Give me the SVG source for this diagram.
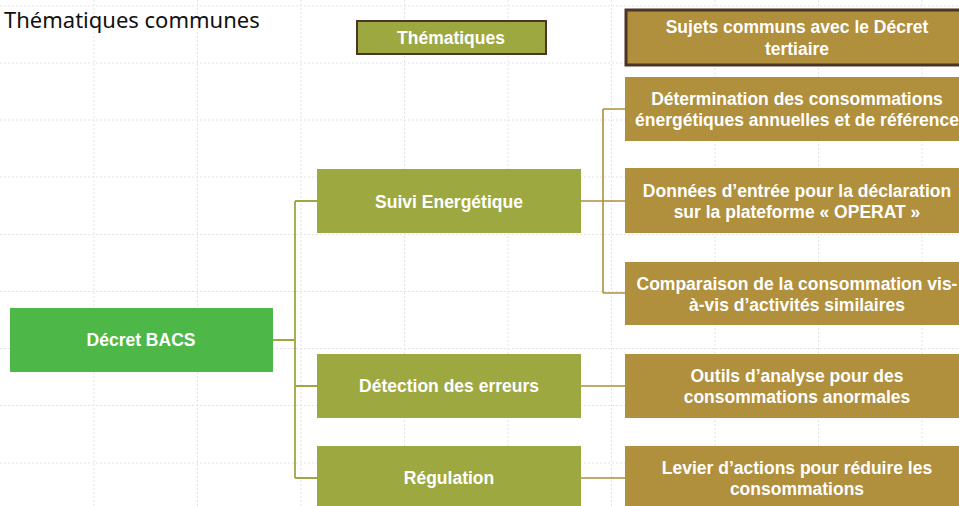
<svg xmlns="http://www.w3.org/2000/svg" width="959" height="506" viewBox="0 0 959 506">
<defs>
<style>
.grid line{stroke:#e3e3e3;stroke-width:1;stroke-dasharray:2 2}
.green{fill:#4db748}
.olive{fill:#9da840}
.brown{fill:#b08f3d}
.hdr{stroke:#4b3526}
.t{font-family:"Liberation Sans","DejaVu Sans",sans-serif;font-weight:bold;font-size:17.5px;fill:#ffffff;text-anchor:middle}
.title{font-family:"Noto Sans","Liberation Sans",sans-serif;font-size:22px;fill:#111111}
.cg{stroke:#9da840;stroke-width:1.8;fill:none}
.cb{stroke:#b08f3d;stroke-width:1.6;fill:none}
</style>
</defs>
<rect width="959" height="506" fill="#ffffff"/>
<g class="grid">
<line x1="94" y1="0" x2="94" y2="506"/>
<line x1="197.5" y1="0" x2="197.5" y2="506"/>
<line x1="301" y1="0" x2="301" y2="506"/>
<line x1="404.5" y1="0" x2="404.5" y2="506"/>
<line x1="508" y1="0" x2="508" y2="506"/>
<line x1="611.5" y1="0" x2="611.5" y2="506"/>
<line x1="715" y1="0" x2="715" y2="506"/>
<line x1="818.5" y1="0" x2="818.5" y2="506"/>
<line x1="922" y1="0" x2="922" y2="506"/>
<line x1="0" y1="6" x2="959" y2="6"/>
<line x1="0" y1="63" x2="959" y2="63"/>
<line x1="0" y1="120" x2="959" y2="120"/>
<line x1="0" y1="177" x2="959" y2="177"/>
<line x1="0" y1="234.5" x2="959" y2="234.5"/>
<line x1="0" y1="291.5" x2="959" y2="291.5"/>
<line x1="0" y1="348.5" x2="959" y2="348.5"/>
<line x1="0" y1="405.5" x2="959" y2="405.5"/>
<line x1="0" y1="463" x2="959" y2="463"/>
</g>
<text class="title" x="4" y="28">Thématiques communes</text>
<g id="connectors">
<path class="cg" d="M273 340 H295 M295 201 V478 M295 201 H317 M295 386 H317 M295 478 H317"/>
<path class="cb" d="M581 201 H603 M603 109 V293 M603 109 H625 M603 201 H625 M603 293 H625 M581 386 H625 M581 478 H625"/>
</g>
<g id="header-thematiques">
<rect class="olive hdr" x="357" y="21" width="189" height="33" stroke-width="2"/>
<text class="t" x="451" y="44">Thématiques</text>
</g>
<g id="header-sujets">
<rect class="brown hdr" x="626" y="10" width="345" height="55" stroke-width="3"/>
<text class="t" x="797" y="33">Sujets communs avec le Décret</text>
<text class="t" x="797" y="55">tertiaire</text>
</g>
<g id="decret-bacs">
<rect class="green" x="10" y="308" width="263" height="64"/>
<text class="t" x="141" y="346">Décret BACS</text>
</g>
<g id="suivi">
<rect class="olive" x="317" y="169" width="264" height="64"/>
<text class="t" x="449" y="208">Suivi Energétique</text>
</g>
<g id="detection">
<rect class="olive" x="317" y="354" width="264" height="64"/>
<text class="t" x="449" y="392">Détection des erreurs</text>
</g>
<g id="regulation">
<rect class="olive" x="317" y="446" width="264" height="64"/>
<text class="t" x="449" y="484">Régulation</text>
</g>
<g id="determination">
<rect class="brown" x="625" y="77" width="345" height="64"/>
<text class="t" x="797" y="105">Détermination des consommations</text>
<text class="t" x="797" y="126">énergétiques annuelles et de référence</text>
</g>
<g id="donnees">
<rect class="brown" x="625" y="168" width="345" height="65"/>
<text class="t" x="797" y="197">Données d’entrée pour la déclaration</text>
<text class="t" x="797" y="218">sur la plateforme « OPERAT »</text>
</g>
<g id="comparaison">
<rect class="brown" x="625" y="262" width="345" height="63"/>
<text class="t" x="797" y="290">Comparaison de la consommation vis-</text>
<text class="t" x="797" y="311">à-vis d’activités similaires</text>
</g>
<g id="outils">
<rect class="brown" x="625" y="354" width="345" height="64"/>
<text class="t" x="797" y="382">Outils d’analyse pour des</text>
<text class="t" x="797" y="403">consommations anormales</text>
</g>
<g id="levier">
<rect class="brown" x="625" y="446" width="345" height="64"/>
<text class="t" x="797" y="474">Levier d’actions pour réduire les</text>
<text class="t" x="797" y="495">consommations</text>
</g>
</svg>
